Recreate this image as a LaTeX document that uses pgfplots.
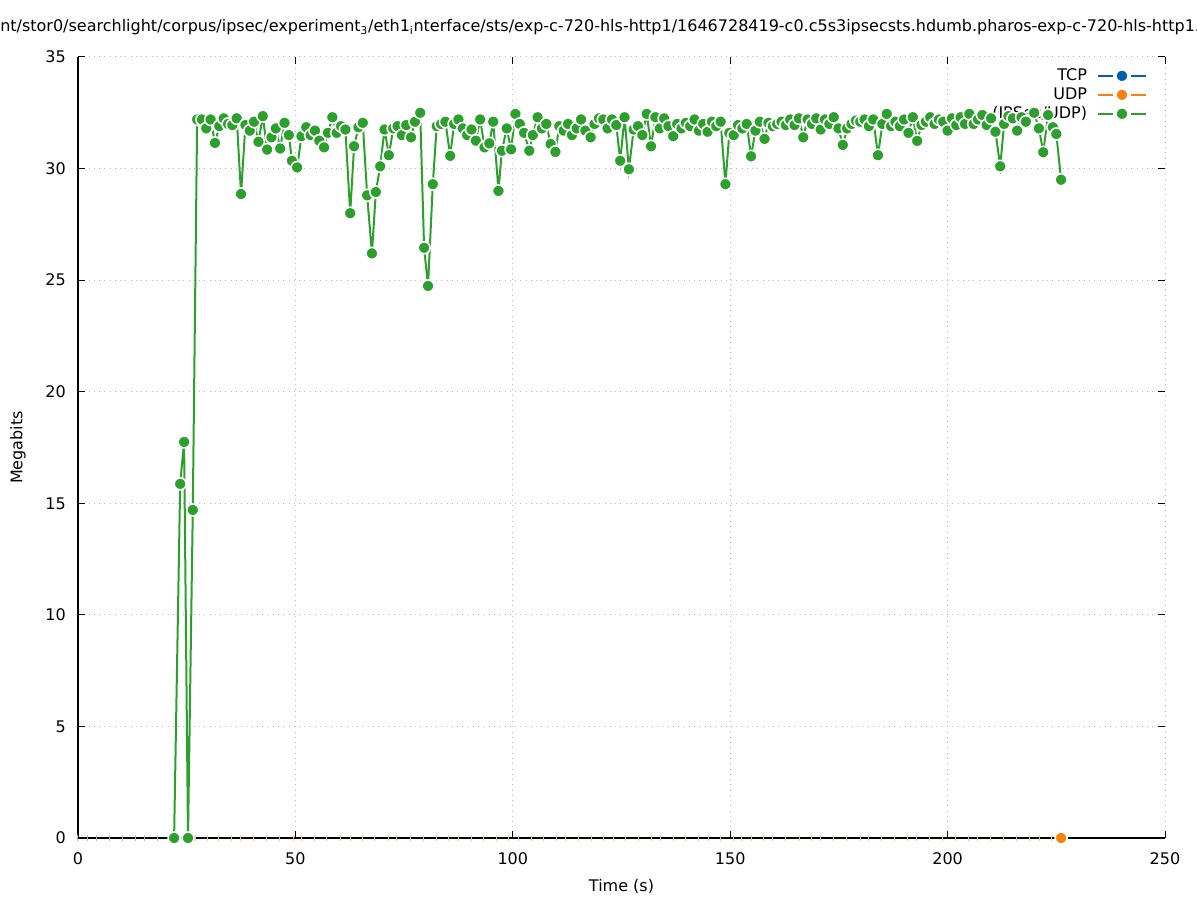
\documentclass[border=0pt]{standalone}
\usepackage{fontspec}
\setmainfont{DejaVu Sans}
\usepackage{pgfplots}
\pgfplotsset{compat=1.18}
\definecolor{tcpc}{HTML}{0060AD}
\definecolor{udpc}{HTML}{FF7F0E}
\definecolor{ipc}{HTML}{2CA02C}
\begin{document}
\begin{tikzpicture}
\useasboundingbox (-58.5pt,-46.5pt) rectangle (839.25pt,628.5pt);
\pgfplotsset{
 common/.style={width=815.25pt, height=585.75pt, scale only axis,
   xmin=0, xmax=250, ymin=0, ymax=35, clip=false, at={(0pt,0pt)}, anchor=south west},
 dotstyle/.style={mark=*, mark size=4.5pt, mark options={solid, fill=#1, draw=white, line width=1.2pt}},
}
\begin{axis}[common,
 xtick={0,50,...,250}, ytick={0,5,...,35},
 tick pos=both, tick align=inside, major tick length=5.25pt,
 tick style={black, line width=0.75pt},
 axis line style={draw=none},
 grid=major, grid style={color=gray!55, line width=0.75pt, dash pattern=on 0.75pt off 3.2pt},
 font=\fontsize{12}{14}\selectfont,
 ticklabel style={font=\fontsize{12}{14}\selectfont},
 /pgf/number format/assume math mode=true,
 xticklabel style={inner sep=0pt, anchor=north, yshift=-10.5pt},
 yticklabel style={inner sep=0pt, anchor=east, xshift=-9pt},
 xlabel={Time (s)}, ylabel={Megabits},
 xlabel style={at={([yshift=-36.5pt]axis description cs:0.5,0)}, anchor=center, inner sep=0pt},
 ylabel style={at={([xshift=-45pt]axis description cs:0,0.5)}, anchor=center, inner sep=0pt},
 legend plot pos=right, legend cell align=right,
 legend style={draw=none, fill=none, inner sep=0pt, outer sep=0pt,
   at={([xshift=-13.5pt,yshift=-8.5pt]axis description cs:1,1)}, anchor=north east,
   row sep=2.95pt, column sep=7.5pt,
   nodes={inner sep=0pt, text height=8.8pt, text depth=2.5pt},
   font=\fontsize{12}{14}\selectfont},
 legend image code/.code={
   \draw[#1, mark=none] (0pt,0pt) -- (11pt,0pt);
   \draw[#1, mark=none] (25pt,0pt) -- (36pt,0pt);
   \draw[#1] plot coordinates {(18pt,0pt)};
 },
]
\addplot[forget plot, only marks, mark=|, mark size=2pt, mark options={draw=ipc!50, line width=0.75pt}]
 coordinates {(0,0) (2.1,0) (4.3,0) (7.2,0) (10.3,0) (13.3,0) (15.4,0) (18.2,0)};
\addplot[forget plot, only marks, mark=|, mark size=2pt, mark options={draw=udpc!50, line width=0.75pt}]
 coordinates {(27.1,0) (29.7,0) (32.3,0) (35.4,0) (37.3,0) (40.3,0) (43.4,0) (46.3,0) (49.5,0) (51.4,0)
 (54.5,0) (57.2,0) (60.3,0) (62.6,0) (65.5,0) (68.3,0) (71.4,0) (73.3,0) (76.4,0) (79.4,0) (82.5,0)
 (85.2,0) (87.5,0) (90.4,0) (93.3,0) (96.2,0) (99.1,0) (101.3,0) (104.2,0) (107.1,0) (110.0,0) (112.2,0)
 (115.1,0) (118.0,0) (120.9,0) (123.1,0) (126.0,0) (128.9,0) (131.8,0) (134.0,0) (136.9,0) (139.8,0)
 (142.7,0) (144.9,0) (147.8,0) (150.7,0) (152.7,0) (154.9,0) (157.6,0) (159.7,0) (162.8,0) (165.9,0)
 (168.7,0) (170.8,0) (173.7,0) (176.8,0) (179.9,0) (181.8,0) (184.9,0) (187.9,0) (190.7,0) (192.9,0)
 (195.9,0) (198.9,0) (201.9,0) (204.9,0) (206.9,0) (209.8,0) (212.9,0) (215.9,0) (218.8,0) (221.1,0) (223.9,0)};
\draw[black, line width=1pt] (rel axis cs:0,1) -- (rel axis cs:0,0) -- (rel axis cs:1,0);
\addplot[forget plot, only marks, dotstyle=udpc] coordinates {(226.1,0)};
\addlegendimage{tcpc, line width=1.5pt, dotstyle=tcpc}
\addlegendentry{TCP}
\addlegendimage{udpc, line width=1.5pt, dotstyle=udpc}
\addlegendentry{UDP}
\addlegendimage{ipc, line width=1.5pt, dotstyle=ipc}
\addlegendentry{(IPSec/UDP)}
\end{axis}
\begin{axis}[common, hide axis]
\addplot[ipc, line width=1.5pt, dotstyle=ipc] coordinates {
(22.1,0) (23.5,15.87) (24.4,17.75) (25.3,0) (26.4,14.7) (27.4,32.2) (28.5,32.2) (29.5,31.8) (30.5,32.2)
(31.5,31.15) (32.5,31.9) (33.5,32.25) (34.5,32.0) (35.5,31.95) (36.5,32.25) (37.5,28.86) (38.5,31.95)
(39.5,31.7) (40.5,32.1) (41.5,31.2) (42.5,32.35) (43.5,30.85) (44.5,31.4) (45.5,31.8) (46.5,30.9)
(47.5,32.05) (48.5,31.5) (49.2,30.35) (50.4,30.05) (51.4,31.45) (52.5,31.85) (53.5,31.5) (54.5,31.7)
(55.5,31.25) (56.6,30.95) (57.5,31.6) (58.5,32.3) (59.5,31.6) (60.5,31.9) (61.5,31.75) (62.6,28.0)
(63.5,31.0) (64.5,31.85) (65.5,32.05) (66.5,28.8) (67.6,26.2) (68.5,28.95) (69.5,30.1) (70.5,31.75)
(71.5,30.6) (72.5,31.8) (73.5,31.9) (74.5,31.5) (75.5,31.95) (76.6,31.4) (77.5,32.1) (78.7,32.5)
(79.6,26.45) (80.5,24.74) (81.6,29.3) (82.5,31.9) (83.5,32.0) (84.5,32.1) (85.6,30.57) (86.5,32.0)
(87.5,32.2) (88.5,31.8) (89.5,31.5) (90.5,31.75) (91.5,31.25) (92.5,32.2) (93.5,30.95) (94.6,31.13)
(95.5,32.1) (96.7,29.0) (97.5,30.8) (98.6,31.8) (99.6,30.86) (100.6,32.45) (101.6,32.0) (102.6,31.6)
(103.8,30.8) (104.6,31.5) (105.7,32.3) (106.7,31.8) (107.7,32.0) (108.7,31.1) (109.8,30.75) (110.7,31.9)
(111.7,31.7) (112.7,32.0) (113.6,31.5) (114.7,31.8) (115.7,32.2) (116.7,31.7) (117.9,31.4) (118.8,32.0)
(119.8,32.25) (120.8,32.2) (121.8,31.8) (122.8,32.2) (123.8,31.95) (124.7,30.35) (125.7,32.3) (126.7,29.97)
(127.8,31.75) (128.8,31.9) (129.8,31.5) (130.8,32.45) (131.8,31.0) (132.8,32.3) (133.8,31.8) (134.8,32.25)
(135.8,31.9) (136.9,31.45) (137.8,32.0) (138.8,31.8) (139.8,32.05) (140.8,31.9) (141.8,32.2) (142.8,31.7)
(143.8,32.0) (144.8,31.65) (145.8,32.1) (146.8,31.9) (147.8,32.1) (148.9,29.3) (149.8,31.6) (150.8,31.5)
(151.8,31.95) (152.8,31.8) (153.8,32.0) (154.8,30.55) (155.8,31.7) (156.8,32.1) (157.9,31.33) (158.8,32.05)
(159.8,31.9) (160.8,32.0) (161.8,32.1) (162.8,31.95) (163.8,32.2) (164.8,31.95) (165.8,32.25) (166.8,31.4)
(167.8,32.2) (168.8,32.0) (169.8,32.25) (170.8,31.75) (171.8,32.2) (172.8,32.0) (173.8,32.3) (174.9,31.8)
(175.9,31.06) (176.9,31.8) (177.9,32.0) (178.9,32.15) (179.9,32.1) (180.9,32.2) (181.9,31.9) (182.9,32.2)
(184.0,30.6) (185.0,32.0) (186.0,32.45) (187.0,31.9) (188.0,32.1) (189.0,31.9) (190.0,32.2) (191.0,31.6)
(192.0,32.3) (193.0,31.24) (194.0,31.95) (195.0,32.1) (196.0,32.3) (197.0,32.0) (198.0,32.2) (199.0,32.1)
(200.0,31.7) (201.0,32.25) (202.0,31.95) (203.0,32.3) (204.0,32.0) (205.0,32.45) (206.0,32.0) (207.0,32.2)
(208.0,32.4) (209.0,31.95) (210.0,32.25) (211.0,31.65) (212.1,30.1) (213.0,32.0) (214.0,32.35) (215.0,32.25)
(216.0,31.7) (217.0,32.3) (218.0,32.1) (219.9,32.5) (221.0,31.8) (222.0,30.73) (223.1,32.4) (224.2,31.85)
(225.0,31.55) (226.1,29.5)};
\end{axis}
\node[anchor=base west, inner sep=0pt, font=\fontsize{12}{14}\selectfont] at (-58.5pt,604.5pt)
 {\llap{/m}nt/stor0/searchlight/corpus/ipsec/experiment\textsubscript{3}/eth1\textsubscript{i}nterface/sts/exp-c-720-hls-http1/1646728419-c0.c5s3ipsecsts.hdumb.pharos-exp-c-720-hls-http1.csv};
\end{tikzpicture}
\end{document}
